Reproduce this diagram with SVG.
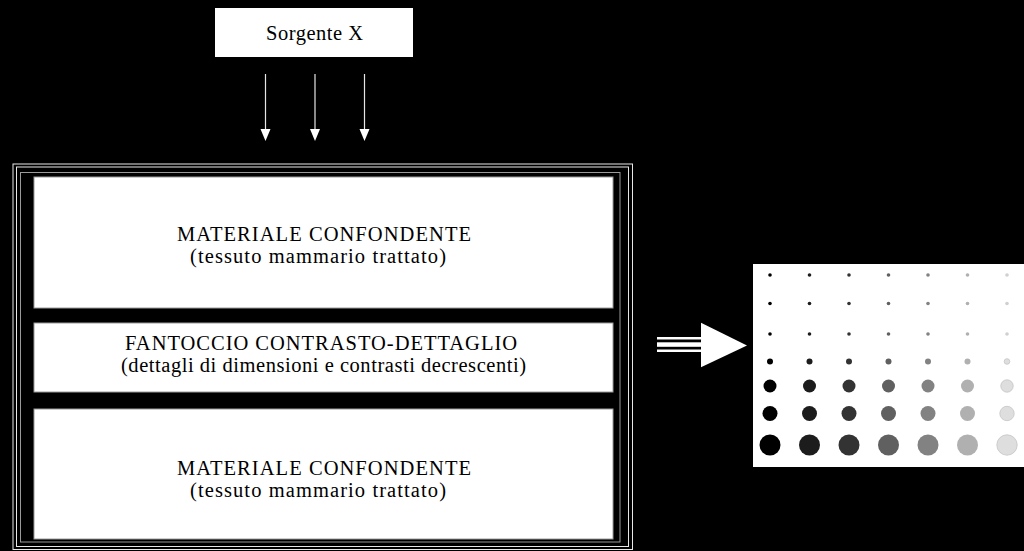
<svg xmlns="http://www.w3.org/2000/svg" width="1024" height="551" viewBox="0 0 1024 551">
<style>
.t{font-family:"Liberation Serif","Times New Roman",serif;font-size:20.5px;fill:#000;text-anchor:start}
.box{fill:#fff;stroke:#9a9a9a;stroke-width:1}
.ray{stroke:#e6e6e6;stroke-width:1.2;fill:none}
.head{fill:#fff}
.c1{fill:#000}.c2{fill:#1c1c1c}.c3{fill:#333}.c4{fill:#606060}.c5{fill:#828282}.c6{fill:#b0b0b0}.c7{fill:#dedede;stroke:#c4c4c4;stroke-width:0.8}
</style>
<rect width="1024" height="551" fill="#000"/>
<g id="sorgente">
<rect x="215" y="8" width="198" height="49" fill="#fff"/>
<text class="t" x="266" y="40" textLength="97" lengthAdjust="spacing">Sorgente X</text>
</g>
<g id="contenitore">
<rect x="13" y="164" width="619.5" height="385.5" fill="none" stroke="#e8e8e8" stroke-width="1"/>
<rect x="16.5" y="167" width="612" height="379.5" fill="none" stroke="#e8e8e8" stroke-width="1"/>
<rect x="20.5" y="172.5" width="599.5" height="369.5" fill="#000" stroke="#9a9a9a" stroke-width="1"/>
</g>
<g id="materiale-sopra">
<rect class="box" x="34" y="177" width="579" height="131"/>
<text class="t" x="177" y="241" textLength="294" lengthAdjust="spacing">MATERIALE CONFONDENTE</text>
<text class="t" x="190" y="263" textLength="256" lengthAdjust="spacing">(tessuto mammario trattato)</text>
</g>
<g id="fantoccio">
<rect class="box" x="34" y="323" width="579" height="69"/>
<text class="t" x="125" y="350" textLength="392" lengthAdjust="spacing">FANTOCCIO CONTRASTO-DETTAGLIO</text>
<text class="t" x="121" y="372" textLength="405" lengthAdjust="spacing">(dettagli di dimensioni e contrasti decrescenti)</text>
</g>
<g id="materiale-sotto">
<rect class="box" x="34" y="409" width="579" height="130"/>
<text class="t" x="177" y="475" textLength="294" lengthAdjust="spacing">MATERIALE CONFONDENTE</text>
<text class="t" x="190" y="497" textLength="256" lengthAdjust="spacing">(tessuto mammario trattato)</text>
</g>
<g id="immagine">
<rect x="753" y="264" width="271" height="203" fill="#fff"/>
<g id="righe-piccole">
<g transform="translate(0,275)">
<circle class="c1" cx="770" cy="0" r="1.8"/><circle class="c2" cx="809.5" cy="0" r="1.8"/><circle class="c3" cx="849" cy="0" r="1.8"/><circle class="c4" cx="888.5" cy="0" r="1.8"/><circle class="c5" cx="928" cy="0" r="1.8"/><circle class="c6" cx="967.5" cy="0" r="1.8"/><circle fill="#d0d0d0" cx="1007" cy="0" r="1.8"/>
</g>
<g transform="translate(0,303.5)">
<circle class="c1" cx="770" cy="0" r="1.8"/><circle class="c2" cx="809.5" cy="0" r="1.8"/><circle class="c3" cx="849" cy="0" r="1.8"/><circle class="c4" cx="888.5" cy="0" r="1.8"/><circle class="c5" cx="928" cy="0" r="1.8"/><circle class="c6" cx="967.5" cy="0" r="1.8"/><circle fill="#d0d0d0" cx="1007" cy="0" r="1.8"/>
</g>
<g transform="translate(0,334)">
<circle class="c1" cx="770" cy="0" r="1.8"/><circle class="c2" cx="809.5" cy="0" r="1.8"/><circle class="c3" cx="849" cy="0" r="1.8"/><circle class="c4" cx="888.5" cy="0" r="1.8"/><circle class="c5" cx="928" cy="0" r="1.8"/><circle class="c6" cx="967.5" cy="0" r="1.8"/><circle fill="#d0d0d0" cx="1007" cy="0" r="1.8"/>
</g>
</g>
<g transform="translate(0,361.5)">
<circle class="c1" cx="770" cy="0" r="3"/><circle class="c2" cx="809.5" cy="0" r="3"/><circle class="c3" cx="849" cy="0" r="3"/><circle class="c4" cx="888.5" cy="0" r="3"/><circle class="c5" cx="928" cy="0" r="3"/><circle class="c6" cx="967.5" cy="0" r="3"/><circle class="c7" cx="1007" cy="0" r="2.8"/>
</g>
<g transform="translate(0,386)">
<circle class="c1" cx="770" cy="0" r="6.5"/><circle class="c2" cx="809.5" cy="0" r="6.5"/><circle class="c3" cx="849" cy="0" r="6.5"/><circle class="c4" cx="888.5" cy="0" r="6.5"/><circle class="c5" cx="928" cy="0" r="6.5"/><circle class="c6" cx="967.5" cy="0" r="6.5"/><circle class="c7" cx="1007" cy="0" r="6.2"/>
</g>
<g transform="translate(0,413.5)">
<circle class="c1" cx="770" cy="0" r="7.5"/><circle class="c2" cx="809.5" cy="0" r="7.5"/><circle class="c3" cx="849" cy="0" r="7.5"/><circle class="c4" cx="888.5" cy="0" r="7.5"/><circle class="c5" cx="928" cy="0" r="7.5"/><circle class="c6" cx="967.5" cy="0" r="7.5"/><circle class="c7" cx="1007" cy="0" r="7.2"/>
</g>
<g transform="translate(0,445)">
<circle class="c1" cx="770" cy="0" r="10.5"/><circle class="c2" cx="809.5" cy="0" r="10.5"/><circle class="c3" cx="849" cy="0" r="10.5"/><circle class="c4" cx="888.5" cy="0" r="10.5"/><circle class="c5" cx="928" cy="0" r="10.5"/><circle class="c6" cx="967.5" cy="0" r="10.5"/><circle class="c7" cx="1007" cy="0" r="10.2"/>
</g>
</g>
<g id="connettori">
<line class="ray" x1="265.5" y1="74" x2="265.5" y2="130"/>
<polygon class="head" points="260.5,129 270.5,129 265.5,141"/>
<line class="ray" x1="315" y1="74" x2="315" y2="130"/>
<polygon class="head" points="310,129 320,129 315,141"/>
<line class="ray" x1="364.5" y1="74" x2="364.5" y2="130"/>
<polygon class="head" points="359.5,129 369.5,129 364.5,141"/>
<g id="freccia-grande">
<rect x="657" y="337" width="45" height="2.5" fill="#fff"/>
<rect x="657" y="342.3" width="45" height="4.5" fill="#fff"/>
<rect x="657" y="349.5" width="45" height="2.5" fill="#fff"/>
<polygon points="701,322.7 747,345.5 701,367.3" fill="#fff"/>
</g>
</g>
</svg>
